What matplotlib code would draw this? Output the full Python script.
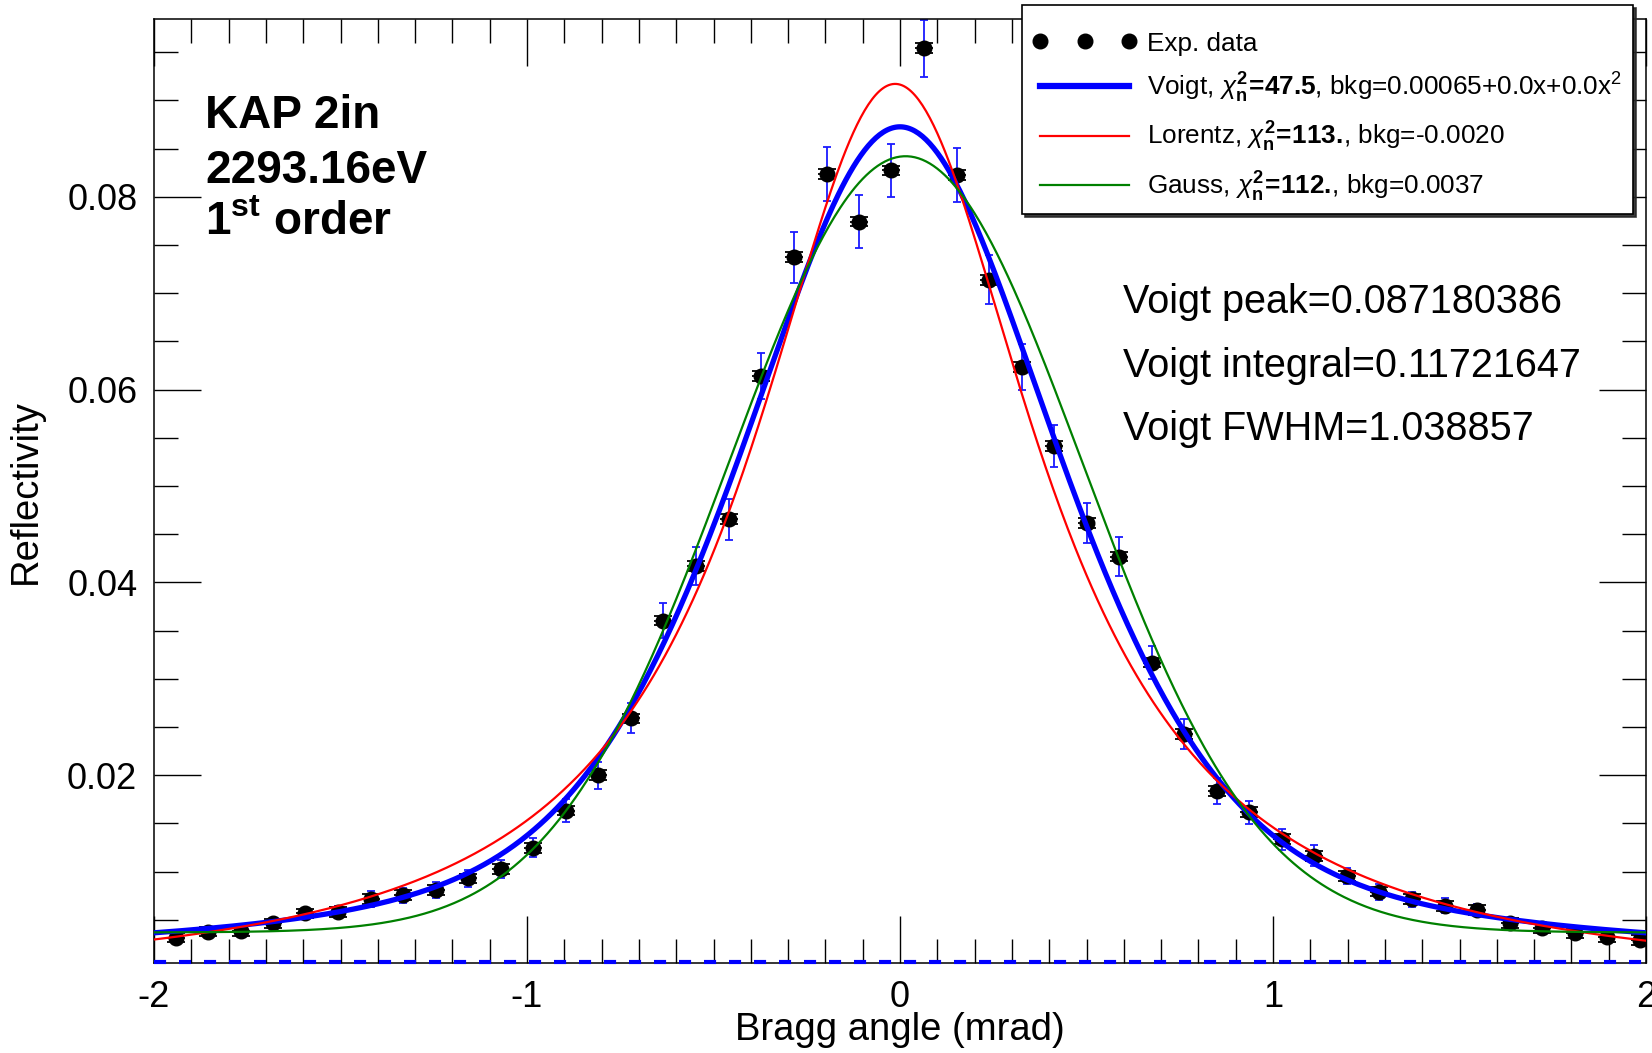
import numpy as np
import matplotlib
matplotlib.use("Agg")
import matplotlib.pyplot as plt
from matplotlib.ticker import MultipleLocator, FixedLocator
from matplotlib.lines import Line2D

# ---------------- data ----------------
angle = [-1.941, -1.854, -1.767, -1.680, -1.594, -1.506, -1.419, -1.332, -1.244, -1.157,
         -1.071, -0.983, -0.895, -0.809, -0.721, -0.635, -0.547, -0.458, -0.373, -0.284,
         -0.197, -0.109, -0.023, 0.065, 0.152, 0.239, 0.326, 0.414, 0.500, 0.588,
         0.675, 0.761, 0.849, 0.936, 1.023, 1.110, 1.198, 1.285, 1.372, 1.461,
         1.548, 1.635, 1.722, 1.810, 1.896, 1.984]
reflectivity = [0.00316, 0.00378, 0.00385, 0.00464, 0.00568, 0.00585, 0.00717, 0.00758, 0.00810, 0.00931,
                0.01025, 0.01249, 0.01633, 0.02000, 0.02590, 0.03604, 0.04171, 0.04655, 0.06142, 0.07373,
                0.08237, 0.07743, 0.08272, 0.09541, 0.08227, 0.07138, 0.06232, 0.05416, 0.04614, 0.04268,
                0.03168, 0.02428, 0.01840, 0.01616, 0.01336, 0.01163, 0.00955, 0.00793, 0.00714, 0.00647,
                0.00603, 0.00471, 0.00413, 0.00361, 0.00326, 0.00291]
err_total = [0.00040, 0.00045, 0.00045, 0.00050, 0.00057, 0.00058, 0.00078, 0.00078, 0.00082, 0.00088,
             0.00092, 0.00100, 0.00120, 0.00138, 0.00156, 0.00185, 0.00195, 0.00210, 0.00240, 0.00263,
             0.00277, 0.00270, 0.00277, 0.00296, 0.00280, 0.00254, 0.00240, 0.00220, 0.00210, 0.00200,
             0.00173, 0.00152, 0.00135, 0.00121, 0.00107, 0.00109, 0.00080, 0.00083, 0.00080, 0.00080,
             0.00064, 0.00050, 0.00050, 0.00040, 0.00040, 0.00038]
err_stat = 0.0005
err_angle = 0.024

# fit parameters
voigt_amp, voigt_center, voigt_fwhm, voigt_eta, voigt_bkg = 0.0866, 0.0, 1.038857, 0.55, 0.00065
lor_amp, lor_center, lor_gamma, lor_bkg = 0.0937, -0.013, 0.47, -0.0020
gauss_amp, gauss_center, gauss_sigma, gauss_bkg = 0.0805, 0.015, 0.473, 0.0037

labels = ["Exp. data",
          r"Voigt, $\chi^{\mathbf{2}}_{\mathbf{n}}\!\mathbf{=}\!\mathbf{47.5}$, bkg=0.00065+0.0x+0.0x$^{2}$",
          r"Lorentz, $\chi^{\mathbf{2}}_{\mathbf{n}}\!\mathbf{=}\!\mathbf{113.}\!$, bkg=-0.0020",
          r"Gauss, $\chi^{\mathbf{2}}_{\mathbf{n}}\!\mathbf{=}\!\mathbf{112.}\!$, bkg=0.0037"]
info_lines = ["Voigt peak=0.087180386", "Voigt integral=0.11721647", "Voigt FWHM=1.038857"]
title_lines = ["KAP 2in", "2293.16eV", r"1$^{\mathbf{st}}$ order"]

# ---------------- style ----------------
plt.rcParams['font.family'] = ['Liberation Sans', 'DejaVu Sans']
plt.rcParams['mathtext.fontset'] = 'custom'
plt.rcParams['mathtext.rm'] = 'Liberation Sans'
plt.rcParams['mathtext.it'] = 'Liberation Sans:italic'
plt.rcParams['mathtext.bf'] = 'Liberation Sans:bold'
plt.rcParams['axes.unicode_minus'] = False

W, H = 1652, 1053
fig = plt.figure(figsize=(W / 100, H / 100), dpi=100)
ax = fig.add_axes([154 / W, 89.7 / H, 1492 / W, 944 / H])

x = np.array(angle)
y = np.array(reflectivity)

# data
ax.errorbar(x, y, yerr=err_total, fmt='none', ecolor='#1a1aff', elinewidth=1.3,
             capsize=3.2, capthick=1.3, zorder=2)
ax.errorbar(x, y, xerr=err_angle, fmt='none', ecolor='black', elinewidth=1.3, zorder=3)
ax.errorbar(x, y, yerr=err_stat, fmt='none', ecolor='black', elinewidth=1.3,
            capsize=6.5, capthick=1.3, zorder=3)
ax.plot(x, y, 'o', color='black', ms=10.5, zorder=4)

# fit curves
xg = np.linspace(-2, 2, 801)
hw = voigt_fwhm / 2
voigt = voigt_bkg + voigt_amp * (voigt_eta / (1 + ((xg - voigt_center) / hw) ** 2)
                                 + (1 - voigt_eta) * np.exp(-np.log(2) * ((xg - voigt_center) / hw) ** 2))
lor = lor_bkg + lor_amp / (1 + ((xg - lor_center) / lor_gamma) ** 2)
gauss = gauss_bkg + gauss_amp * np.exp(-0.5 * ((xg - gauss_center) / gauss_sigma) ** 2)

ax.plot(xg, np.full_like(xg, voigt_bkg), color='#0000ff', lw=3.0, ls=(0, (2.9, 3.1)),
        zorder=5, clip_on=False)
lv, = ax.plot(xg, voigt, color='#0000ff', lw=3.8, zorder=5)
lr, = ax.plot(xg, lor, color='#ff0000', lw=1.6, zorder=6)
lgn, = ax.plot(xg, gauss, color='#008000', lw=1.6, zorder=7)

ax.set_xlim(-2, 2)
ax.set_ylim(0.0005, 0.0984)
ax.xaxis.set_major_locator(FixedLocator([-2, -1, 0, 1, 2]))
ax.xaxis.set_minor_locator(MultipleLocator(0.1))
ax.set_xticklabels(["-2", "-1", "0", "1", "2"])
ax.yaxis.set_major_locator(FixedLocator([0.02, 0.04, 0.06, 0.08]))
ax.yaxis.set_minor_locator(MultipleLocator(0.005))
ax.set_yticklabels(["0.02", "0.04", "0.06", "0.08"])
ax.tick_params(which='both', direction='in', top=True, right=True, width=1.0, color='black')
ax.tick_params(which='major', length=34, labelsize=26, pad=12)
ax.tick_params(which='minor', length=17)
for s in ax.spines.values():
    s.set_linewidth(1.1)

ax.set_xlabel("Bragg angle (mrad)", fontsize=27.5, labelpad=-2)
ax.set_ylabel("Reflectivity", fontsize=27.5, labelpad=17)

# annotations
for txt, yy in zip(title_lines, [0.8848, 0.8266, 0.7715]):
    ax.text(0.0342, yy, txt, transform=ax.transAxes, fontsize=33, fontweight='bold',
            va='baseline', ha='left')
for txt, yy in zip(info_lines, [0.6885, 0.6208, 0.5543]):
    ax.text(0.6493, yy, txt, transform=ax.transAxes, fontsize=28.5, va='baseline', ha='left')

# legend
hd = Line2D([], [], ls='none', marker='o', color='black', ms=10.5)
leg = fig.legend([hd, lv, lr, lgn], labels, loc='upper left',
                 bbox_to_anchor=(1022 / W, 1 - 5 / H), bbox_transform=fig.transFigure,
                 fontsize=18.8, numpoints=3, handlelength=4.0, handletextpad=0.4,
                 labelspacing=0.58, borderpad=0.4, borderaxespad=0, fancybox=False,
                 title=" ", title_fontsize=1.5,
                 framealpha=1, edgecolor='black',
                 shadow={'color': '0.15', 'alpha': 0.9})
leg.get_frame().set_linewidth(1.2)
leg.get_lines()[1].set_linewidth(4.5)

fig.savefig("out.png", dpi=100)
